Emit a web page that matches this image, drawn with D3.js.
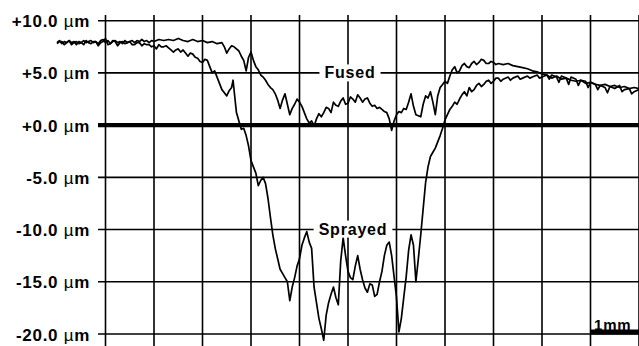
<!DOCTYPE html>
<html>
<head>
<meta charset="utf-8">
<script src="https://cdn.jsdelivr.net/npm/d3@7"></script>
<style>
  body { margin: 0; background: #fff; }
  svg { display: block; }
  text { font-family: "Liberation Sans", Arial, sans-serif; fill: #000; }
</style>
</head>
<body>
<div class="profile-chart"></div>
<script>
/* CONSTANTS AND GLOBALS */
const width = 639,
  height = 346;

// surface height (µm) along the scan (mm)
const yTicks = [10, 5, 0, -5, -10, -15, -20];
const yTickLabels = ["+10.0", "+5.0", "+0.0", "-5.0", "-10.0", "-15.0", "-20.0"];
const xGrid = [1, 2, 3, 4, 5, 6, 7, 8, 9, 10, 11, 12];

const fused = [
  [0,7.9],[0.05,8.1],[0.1,7.8],[0.15,8.0],[0.2,7.9],[0.25,8.1],[0.3,7.9],[0.35,8.0],[0.4,7.7],[0.45,8.0],
  [0.5,7.9],[0.55,8.1],[0.6,7.9],[0.65,8.0],[0.7,8.1],[0.75,7.9],[0.8,8.0],[0.85,7.8],[0.9,8.1],[0.95,8.2],
  [1.0,7.9],[1.05,8.1],[1.1,7.8],[1.15,8.0],[1.2,8.1],[1.25,7.9],[1.3,8.0],[1.35,7.8],[1.4,8.1],[1.45,7.9],
  [1.5,8.0],[1.55,8.1],[1.6,7.9],[1.65,8.1],[1.7,8.0],[1.75,8.2],[1.8,8.0],[1.85,8.1],[1.9,7.9],[1.95,8.1],
  [2.0,8.0],[2.1,8.2],[2.2,8.1],[2.3,8.2],[2.4,8.1],[2.5,8.3],[2.6,8.1],[2.7,8.0],[2.8,8.2],[2.9,8.0],
  [3.0,8.1],[3.1,7.9],[3.2,8.0],[3.3,7.8],[3.4,7.9],[3.45,7.5],[3.5,6.9],[3.55,7.3],[3.6,7.6],[3.65,7.5],
  [3.7,7.3],[3.75,7.1],[3.8,6.6],[3.85,6.2],[3.9,5.2],[3.95,6.5],[4.0,7.0],[4.05,6.2],[4.1,5.6],[4.15,5.3],
  [4.2,4.8],[4.25,4.6],[4.3,4.3],[4.35,3.9],[4.4,3.6],[4.45,3.4],[4.5,3.0],[4.55,2.4],[4.6,1.6],[4.65,2.4],
  [4.7,3.0],[4.75,2.0],[4.8,1.0],[4.85,1.6],[4.9,2.0],[4.95,2.5],[5.0,2.2],[5.05,1.8],[5.1,1.2],[5.15,0.6],
  [5.2,0.2],[5.25,0.4],[5.3,-0.1],[5.35,0.6],[5.4,1.1],[5.45,0.8],[5.5,1.2],[5.55,1.7],[5.6,1.6],[5.65,1.2],
  [5.7,2.2],[5.75,1.9],[5.8,1.8],[5.85,2.3],[5.9,2.6],[5.95,2.0],[6.0,2.1],[6.05,2.7],[6.1,2.5],[6.15,2.2],
  [6.2,2.9],[6.25,2.6],[6.3,2.2],[6.35,2.5],[6.4,2.6],[6.45,2.1],[6.5,1.8],[6.55,1.9],[6.6,1.6],[6.65,1.7],
  [6.7,1.5],[6.75,1.3],[6.8,1.2],[6.85,0.6],[6.9,-0.5],[6.95,0.4],[7.0,1.0],[7.05,1.3],[7.1,1.2],[7.15,1.6],
  [7.2,1.5],[7.25,2.2],[7.3,3.0],[7.35,1.8],[7.4,1.0],[7.45,0.9],[7.5,0.8],[7.55,2.0],[7.6,2.8],[7.65,2.6],
  [7.7,3.2],[7.75,2.2],[7.8,1.0],[7.85,2.8],[7.9,3.6],[7.95,3.9],[8.0,4.2],[8.05,4.0],[8.1,4.7],[8.15,5.3],
  [8.2,5.6],[8.25,5.0],[8.3,5.2],[8.35,5.7],[8.4,5.9],[8.45,5.6],[8.5,5.5],[8.55,5.9],[8.6,6.1],[8.65,5.8],
  [8.7,6.0],[8.75,6.3],[8.8,6.2],[8.85,5.9],[8.9,5.9],[8.95,6.1],[9.0,6.0],[9.05,5.8],[9.1,5.9],[9.2,5.8],
  [9.3,5.9],[9.4,5.7],[9.5,5.6],[9.6,5.5],[9.7,5.4],[9.8,5.2],[9.9,5.1],[10.0,4.9],[10.1,4.8],[10.15,4.4],
  [10.2,4.8],[10.3,4.6],[10.35,4.1],[10.4,4.7],[10.5,4.5],[10.55,3.9],[10.6,4.6],[10.7,4.4],[10.75,3.8],[10.8,4.3],
  [10.9,4.2],[10.95,3.6],[11.0,4.1],[11.1,3.9],[11.15,3.4],[11.2,3.8],[11.3,3.6],[11.35,3.1],[11.4,3.7],[11.5,3.5],
  [11.6,3.8],[11.65,3.2],[11.7,3.4],[11.8,3.5],[11.85,3.0],[11.9,3.2],[12.0,3.4]
];

const sprayed = [
  [0,7.8],[0.05,8.0],[0.1,8.0],[0.15,7.7],[0.2,7.9],[0.25,8.1],[0.3,7.7],[0.35,7.9],[0.4,8.0],[0.45,7.8],
  [0.5,7.9],[0.55,7.7],[0.6,8.1],[0.65,7.9],[0.7,7.8],[0.75,8.0],[0.8,8.0],[0.85,7.6],[0.9,7.9],[0.95,8.0],
  [1.0,8.3],[1.05,7.7],[1.1,7.8],[1.15,8.1],[1.2,8.0],[1.25,7.6],[1.3,7.9],[1.35,8.0],[1.4,7.8],[1.45,7.9],
  [1.5,8.0],[1.55,7.7],[1.6,7.7],[1.65,7.9],[1.7,7.9],[1.75,7.6],[1.8,7.8],[1.85,7.7],[1.9,7.7],[1.95,7.5],
  [2.0,7.6],[2.05,7.3],[2.1,7.7],[2.15,7.5],[2.2,7.5],[2.25,7.6],[2.3,7.4],[2.35,7.2],[2.4,7.0],[2.45,7.2],
  [2.5,7.3],[2.55,7.0],[2.6,7.2],[2.65,6.9],[2.7,6.6],[2.75,6.9],[2.8,6.8],[2.85,6.5],[2.9,6.4],[2.95,6.1],
  [3.0,6.0],[3.05,6.3],[3.1,6.2],[3.15,5.6],[3.2,5.0],[3.25,5.2],[3.3,4.6],[3.35,4.0],[3.4,3.4],[3.45,3.1],
  [3.5,2.8],[3.55,3.3],[3.6,3.6],[3.63,4.3],[3.67,2.5],[3.7,1.2],[3.75,0.4],[3.8,-0.4],[3.85,-0.3],[3.9,-1.0],
  [3.95,-2.0],[4.0,-3.4],[4.05,-4.0],[4.1,-4.6],[4.15,-5.8],[4.2,-5.3],[4.25,-5.0],[4.3,-5.6],[4.35,-7.0],[4.4,-8.8],
  [4.45,-10.5],[4.5,-11.8],[4.55,-12.8],[4.6,-13.8],[4.65,-14.2],[4.7,-14.6],[4.75,-15.0],[4.8,-16.8],[4.85,-15.5],[4.9,-14.6],
  [4.95,-13.5],[5.0,-12.8],[5.05,-11.5],[5.1,-10.8],[5.15,-10.2],[5.2,-11.2],[5.25,-11.8],[5.3,-15.5],[5.35,-17.0],[5.4,-18.5],
  [5.45,-19.5],[5.5,-20.6],[5.55,-18.2],[5.6,-17.0],[5.65,-16.2],[5.7,-15.5],[5.75,-16.5],[5.8,-17.2],[5.85,-13.0],[5.9,-10.8],
  [5.95,-12.5],[6.0,-14.0],[6.05,-14.6],[6.1,-14.8],[6.15,-13.5],[6.2,-12.5],[6.25,-13.8],[6.3,-14.8],[6.35,-15.6],[6.4,-16.0],
  [6.45,-15.2],[6.5,-15.3],[6.55,-16.4],[6.6,-16.2],[6.65,-15.0],[6.7,-14.0],[6.75,-12.5],[6.8,-11.5],[6.85,-11.2],[6.9,-12.5],
  [6.95,-14.5],[7.0,-16.5],[7.05,-19.8],[7.1,-18.5],[7.15,-16.5],[7.2,-14.5],[7.25,-12.0],[7.3,-10.5],[7.35,-11.5],[7.4,-15.0],
  [7.45,-12.8],[7.5,-10.5],[7.55,-8.0],[7.6,-5.5],[7.65,-4.0],[7.7,-3.0],[7.75,-2.6],[7.8,-2.2],[7.85,-1.6],[7.9,-1.0],
  [7.95,-0.3],[8.0,0.5],[8.05,1.0],[8.1,1.5],[8.15,1.8],[8.2,2.2],[8.25,2.0],[8.3,2.5],[8.35,2.9],[8.4,3.2],
  [8.45,2.8],[8.5,3.6],[8.55,3.2],[8.6,3.4],[8.65,3.8],[8.7,4.0],[8.75,3.7],[8.8,3.9],[8.85,4.2],[8.9,4.3],
  [8.95,4.0],[9.0,4.2],[9.05,4.5],[9.1,4.5],[9.15,4.2],[9.2,4.4],[9.3,4.6],[9.35,4.3],[9.4,4.5],[9.5,4.7],
  [9.55,4.4],[9.6,4.5],[9.7,4.7],[9.75,4.5],[9.8,4.6],[9.9,4.8],[9.95,4.5],[10.0,4.6],[10.1,4.8],[10.2,4.5],
  [10.3,4.7],[10.4,4.4],[10.5,4.5],[10.6,4.3],[10.7,4.2],[10.8,4.3],[10.9,4.0],[11.0,4.1],[11.1,3.9],[11.2,3.8],
  [11.3,3.9],[11.4,3.7],[11.5,3.8],[11.6,3.6],[11.7,3.7],[11.8,3.5],[11.9,3.6],[12.0,3.5]
];

// scales: 1 mm per grid cell, 5 µm per grid row
const xScale = d3.scaleLinear().domain([0, 12]).range([57, 639]);
const yScale = d3.scaleLinear().domain([-20, 10]).range([334, 20.7]);

const svg = d3.select(".profile-chart")
  .append("svg")
  .attr("width", width)
  .attr("height", height);

// vertical grid
svg.append("g")
  .selectAll("line")
  .data(xGrid)
  .join("line")
  .attr("x1", d => xScale(d))
  .attr("x2", d => xScale(d))
  .attr("y1", 15)
  .attr("y2", height)
  .attr("stroke", "#000")
  .attr("stroke-width", 1.6);

// horizontal grid, zero line heavier
svg.append("g")
  .selectAll("line")
  .data(yTicks)
  .join("line")
  .attr("x1", 98)
  .attr("x2", width)
  .attr("y1", d => yScale(d))
  .attr("y2", d => yScale(d))
  .attr("stroke", "#000")
  .attr("stroke-width", d => d === 0 ? 4.3 : 1.6);

// y labels
const labels = svg.append("g")
  .selectAll("text")
  .data(yTicks)
  .join("text")
  .attr("x", 90)
  .attr("y", d => yScale(d) + 6.5)
  .attr("text-anchor", "end")
  .attr("font-size", 17)
  .attr("font-weight", "bold")
  .attr("letter-spacing", 0.7);
labels.append("tspan").text((d, i) => yTickLabels[i] + " ");
labels.append("tspan").attr("font-weight", "normal").text("\u00b5");
labels.append("tspan").text("m");

// profiles
const line = d3.line()
  .x(d => xScale(d[0]))
  .y(d => yScale(d[1]));

svg.selectAll("path.profile")
  .data([fused, sprayed])
  .join("path")
  .attr("class", "profile")
  .attr("fill", "none")
  .attr("stroke", "#000")
  .attr("stroke-width", 1.7)
  .attr("stroke-linejoin", "round")
  .attr("d", line);

// series labels on white boxes
function boxedLabel(txt, cx, baseline) {
  const g = svg.append("g");
  const rect = g.append("rect").attr("fill", "#fff");
  const t = g.append("text")
    .attr("x", cx)
    .attr("y", baseline)
    .attr("text-anchor", "middle")
    .attr("font-size", 16)
    .attr("font-weight", "bold")
    .attr("letter-spacing", 0.8)
    .text(txt);
  const b = t.node().getBBox();
  rect.attr("x", b.x - 5).attr("y", b.y).attr("width", b.width + 10).attr("height", b.height);
}
boxedLabel("Fused", 350, yScale(5) + 5.5);
boxedLabel("Sprayed", 353, yScale(-10) + 5);

// scale bar
svg.append("rect")
  .attr("x", xScale(11))
  .attr("y", yScale(-20) - 4.5)
  .attr("width", xScale(12) - xScale(11))
  .attr("height", 5)
  .attr("fill", "#000");
svg.append("text")
  .attr("x", (xScale(11) + xScale(12)) / 2 - 2)
  .attr("y", yScale(-20) - 4.5)
  .attr("text-anchor", "middle")
  .attr("font-size", 15)
  .attr("font-weight", "bold")
  .attr("letter-spacing", 0.8)
  .text("1mm");
</script>
</body>
</html>
